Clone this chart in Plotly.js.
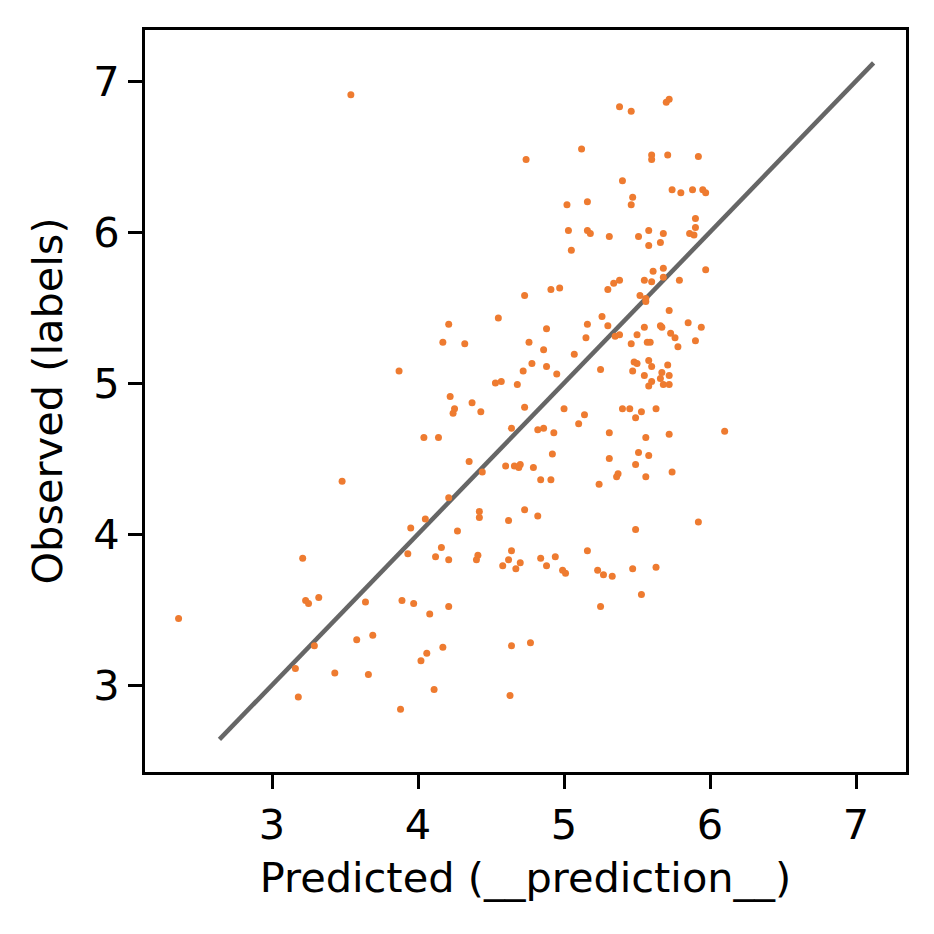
<!DOCTYPE html>
<html>
<head>
<meta charset="utf-8">
<script src="https://cdn.plot.ly/plotly-3.0.1.min.js"></script>
<style>html,body{margin:0;padding:0;background:#fff;}#chart{width:934px;height:934px;}</style>
</head>
<body>
<div id="chart"></div>
<script>
const predicted = [
3.54,4.74,5.12,5.38,5.46,5.70,5.72,5.60,5.60,5.71,5.92,5.40,5.74,5.80,5.88,5.95,5.97,5.47,5.46,5.90,
5.90,5.86,5.89,5.31,5.51,5.58,5.68,5.58,5.66,5.61,5.68,5.68,5.55,5.60,5.79,5.97,5.38,5.34,5.30,5.02,
5.16,5.03,5.16,5.18,5.05,4.91,4.97,4.73,4.21,4.55,4.17,4.32,4.88,4.76,4.86,4.78,4.88,4.72,4.95,5.07,
5.16,5.26,5.30,5.15,5.25,4.53,4.57,4.68,4.22,4.25,4.24,4.37,4.43,4.73,5.00,5.14,5.10,4.64,4.82,4.86,
4.93,5.31,4.92,4.35,4.44,4.60,4.66,4.70,4.69,4.79,4.84,4.91,5.24,5.31,4.21,4.42,4.42,4.62,4.73,4.82,
4.27,4.16,4.21,4.41,4.40,4.64,4.62,4.58,4.70,4.67,4.84,4.88,4.94,4.99,5.01,5.16,5.23,5.27,5.33,4.21,
5.25,4.17,4.64,4.77,4.63,4.04,4.14,3.48,4.05,3.95,3.93,4.12,3.21,3.23,3.25,3.32,3.64,3.89,3.97,4.08,
2.36,3.29,3.58,3.69,4.06,4.02,3.16,3.43,3.66,4.11,3.18,3.88,5.52,5.56,5.56,5.72,5.55,5.66,5.67,5.85,
5.94,5.50,5.35,5.38,5.46,5.57,5.59,5.73,5.76,5.78,5.90,5.48,5.50,5.58,5.60,5.71,5.47,5.55,5.67,5.66,
5.72,5.58,5.60,5.68,5.72,5.40,5.45,5.53,5.49,5.63,5.56,5.72,6.10,5.51,5.58,5.49,5.37,5.36,5.56,5.74,
5.92,5.49,5.47,5.63,5.53,3.87
];
const observed = [
6.91,6.48,6.55,6.83,6.80,6.86,6.88,6.51,6.48,6.51,6.50,6.34,6.28,6.26,6.28,6.28,6.26,6.23,6.18,6.09,
6.03,5.99,5.98,5.97,5.97,6.01,5.99,5.91,5.93,5.74,5.76,5.70,5.68,5.67,5.68,5.75,5.68,5.66,5.62,6.18,
6.20,6.01,6.01,5.99,5.88,5.62,5.63,5.58,5.39,5.43,5.27,5.26,5.36,5.27,5.22,5.13,5.11,5.08,5.06,5.19,
5.39,5.44,5.38,5.30,5.09,5.00,5.01,4.99,4.91,4.83,4.80,4.87,4.81,4.84,4.83,4.79,4.73,4.70,4.69,4.70,
4.67,4.67,4.53,4.48,4.41,4.45,4.45,4.46,4.44,4.44,4.36,4.36,4.33,4.50,4.24,4.15,4.11,4.09,4.16,4.12,
4.02,3.91,3.83,3.86,3.83,3.89,3.83,3.79,3.81,3.77,3.84,3.79,3.85,3.76,3.74,3.89,3.76,3.73,3.72,3.52,
3.52,3.25,3.26,3.28,2.93,4.64,4.64,4.35,4.10,4.04,3.87,3.85,3.84,3.56,3.54,3.58,3.55,3.56,3.54,3.47,
3.44,3.26,3.30,3.33,3.21,3.16,3.11,3.08,3.07,2.97,2.92,2.84,5.58,5.56,5.54,5.48,5.37,5.38,5.37,5.40,
5.37,5.32,5.31,5.32,5.26,5.27,5.27,5.33,5.30,5.24,5.28,5.14,5.13,5.15,5.11,5.12,5.08,5.05,5.07,5.03,
5.05,4.98,5.01,4.99,4.99,4.83,4.83,4.81,4.77,4.83,4.64,4.66,4.68,4.54,4.52,4.46,4.40,4.38,4.38,4.41,
4.08,4.03,3.77,3.78,3.60,5.08
];
const identityLine = [2.64, 7.12];
const tickValues = [3, 4, 5, 6, 7];
const xTitle = 'Predicted (__prediction__)';
const yTitle = 'Observed (labels)';

const font = {family: 'DejaVu Sans', size: 41.5, color: '#000'};
const axisCommon = {
  tickvals: tickValues,
  ticktext: tickValues.map(String),
  ticks: 'outside', ticklen: 14, tickwidth: 3, tickcolor: '#000',
  showline: true, linecolor: '#000', linewidth: 3, mirror: true,
  showgrid: false, zeroline: false,
  tickfont: font
};

Plotly.newPlot('chart', [
  {x: identityLine, y: identityLine, mode: 'lines', line: {color: '#666666', width: 4.5}, hoverinfo: 'skip'},
  {x: predicted, y: observed, mode: 'markers', marker: {color: '#ee7b30', size: 7}}
], {
  width: 934, height: 934,
  margin: {l: 145, r: 28, t: 30, b: 162},
  showlegend: false,
  paper_bgcolor: '#fff', plot_bgcolor: '#fff',
  font: font,
  xaxis: Object.assign({}, axisCommon, {range: [2.130, 7.342], title: {text: xTitle, font: font, standoff: 16}}),
  yaxis: Object.assign({}, axisCommon, {range: [2.424, 7.338], title: {text: yTitle, font: font, standoff: 18}})
}, {displayModeBar: false, staticPlot: true});
</script>
</body>
</html>
